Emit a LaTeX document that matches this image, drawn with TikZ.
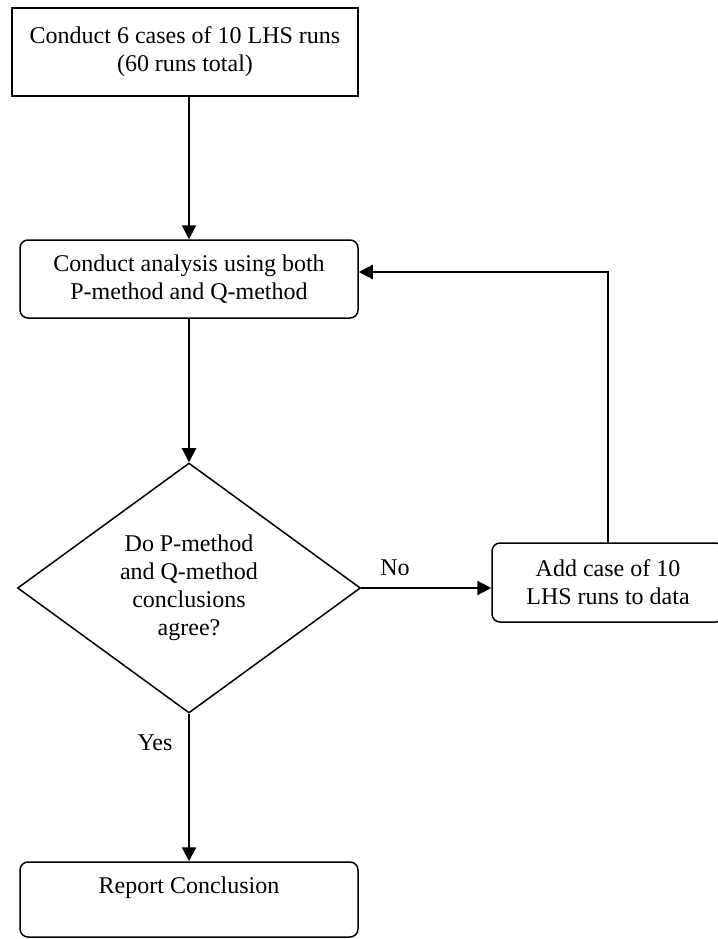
\documentclass[tikz,border=0pt]{standalone}
\usepackage{fontspec}
\setmainfont{Liberation Serif}
\usetikzlibrary{arrows.meta, positioning, shapes.geometric}

\begin{document}
\begin{tikzpicture}[
			x=1pt, y=-1pt,
			every node/.style={font=\fontsize{24}{28}\selectfont},
			box/.style={
				rectangle, draw, line width=1.5pt, inner sep=0pt,
				align=center, minimum width=338pt, minimum height=78pt
			},
			roundbox/.style={box, rounded corners=8pt},
			query/.style={
				diamond, draw, line width=1.5pt, inner sep=0pt,
				align=center, minimum width=343pt, minimum height=250pt
			},
			arrow/.style={
				-{Triangle[length=14pt,width=14pt]},
				line width=2.2pt
			}
			]
			\useasboundingbox (0,0) rectangle (717,939);
			
			\node[box, minimum width=346pt, minimum height=88pt] (start) at (185,52) {Conduct 6 cases of 10 LHS runs \\ (60 runs total)};
			\node[roundbox] (analysis) at (189,279) {Conduct analysis using both \\ P-method and Q-method};
			\node[query] (agree) at (189,588) {Do P-method \\ and Q-method \\ conclusions \\ agree?};
			\node[roundbox, minimum width=232pt, minimum height=79pt] (addcase) at (608,582.5) {Add case of 10 \\ LHS runs to data};
			\node[roundbox, minimum height=75pt] (report) at (189,899.5) {Report Conclusion \\ ~};
			
			\node (no) at (395,568) {No};
			\node (yes) at (155,743) {Yes};
			
			\draw[arrow] (analysis.north |- start.south) -- (analysis);
			\draw[arrow] (analysis) -- (agree);
			\draw[arrow] (agree.east) -- (addcase.west |- agree.east);
			\draw[arrow] (agree) -- (report);
			\draw[arrow] (addcase.north) |- ([yshift=7pt]analysis.east);
			
		\end{tikzpicture}
\end{document}
